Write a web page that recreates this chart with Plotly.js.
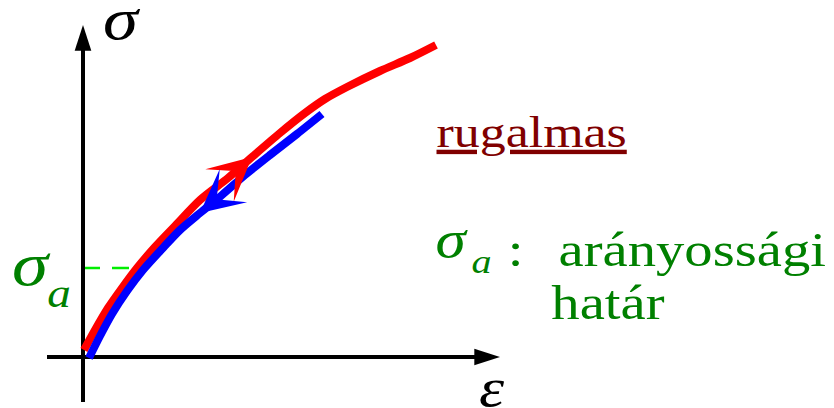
<!DOCTYPE html>
<html>
<head>
<meta charset="utf-8">
<script src="https://cdn.plot.ly/plotly-3.0.1.min.js"></script>
<style>
  html, body { margin: 0; padding: 0; background: #ffffff; }
  #chart { width: 834px; height: 408px; }
  /* slightly wide lettering for the labels */
  #chart text.annotation-text {
    transform-box: fill-box;
    transform-origin: center;
    transform: scaleX(1.18);
  }
</style>
</head>
<body>
<div id="chart"></div>
<script>
// Elastic behaviour in the stress–strain plane: loading (red) and unloading (blue)
// follow the same path; below σ_a the relation is still proportional.

// Loading branch (ε, σ) in arbitrary units
const loadStrain = [0.01, 0.12, 0.25, 0.39, 0.54, 0.72, 0.92, 1.17, 1.45, 1.69, 1.97, 2.22, 2.42, 2.64, 2.97, 3.27, 3.53];
const loadStress = [0.07, 0.27, 0.49, 0.69, 0.89, 1.10, 1.31, 1.57, 1.79, 2.00, 2.24, 2.44, 2.58, 2.70, 2.86, 2.99, 3.12];

// Unloading branch (ε, σ)
const unloadStrain = [0.06, 0.17, 0.29, 0.44, 0.60, 0.79, 0.97, 1.17, 1.39, 1.62, 1.87, 2.14, 2.39];
const unloadStress = [-0.01, 0.21, 0.43, 0.66, 0.87, 1.08, 1.27, 1.44, 1.62, 1.82, 2.02, 2.23, 2.43];

// Proportional limit
const sigmaA = 0.89;

// Texts
const yAxisLabel = 'σ';
const xAxisLabel = 'ε';
const limitSymbol = 'σ';
const limitIndex = 'a';
const elasticLabel = 'rugalmas';
const limitLine1 = 'arányossági';
const limitLine2 = 'határ';

// Where the direction arrows sit on each branch (point index)
const loadArrowAt = 9;
const unloadArrowAt = 7;

const W = 834, H = 408;
const SERIF = 'Liberation Serif';
const RED = '#ff0000', BLUE = '#0000ff', GREEN = '#008000', MAROON = '#800000';

// strain at which the loading branch reaches a given stress (linear interpolation)
function strainAt(stress) {
  for (let i = 1; i < loadStress.length; i++) {
    if (loadStress[i] >= stress) {
      const t = (stress - loadStress[i - 1]) / (loadStress[i] - loadStress[i - 1]);
      return loadStrain[i - 1] + t * (loadStrain[i] - loadStrain[i - 1]);
    }
  }
  return loadStrain[loadStrain.length - 1];
}

// axis extents (data units)
const xMin = -0.36, xMax = 4.17;
const yMin = -0.45, yMax = 3.32;

const axisMarker = {
  symbol: 'arrow', size: [0, 27], color: '#000000', opacity: 1,
  line: { width: 0 }, angleref: 'previous'
};

const traces = [
  // dashed guide at the proportional limit
  {
    x: [0, strainAt(sigmaA)], y: [sigmaA, sigmaA],
    mode: 'lines', line: { color: '#00ee00', width: 2.5, dash: '17px,12px' }
  },
  // σ axis
  {
    x: [0, 0], y: [yMin, yMax], mode: 'lines+markers',
    line: { color: '#000000', width: 4 }, marker: axisMarker
  },
  // ε axis
  {
    x: [xMin, xMax], y: [0, 0], mode: 'lines+markers',
    line: { color: '#000000', width: 4 }, marker: axisMarker
  },
  // loading
  {
    x: loadStrain, y: loadStress, mode: 'lines',
    line: { color: RED, width: 8, shape: 'spline', smoothing: 0.8 }
  },
  // unloading
  {
    x: unloadStrain, y: unloadStress, mode: 'lines',
    line: { color: BLUE, width: 8, shape: 'spline', smoothing: 0.8 }
  }
];

// paper position from pixel position
function at(px, py) { return { xref: 'paper', yref: 'paper', x: px / W, y: 1 - py / H }; }

function label(text, px, py, size, color) {
  return Object.assign(at(px, py), {
    text: text, showarrow: false,
    xanchor: 'center', yanchor: 'middle',
    font: { family: SERIF, size: size, color: color }
  });
}

function directionArrow(xs, ys, i, j, color) {
  return {
    xref: 'x', yref: 'y', axref: 'x', ayref: 'y',
    x: xs[i], y: ys[i], ax: xs[j], ay: ys[j],
    text: '', showarrow: true,
    arrowhead: 3, arrowsize: 3.6, arrowwidth: 2, arrowcolor: color
  };
}

const annotations = [
  label('<i>' + yAxisLabel + '</i>', 122, 19, 60, '#000000'),
  label('<i>' + xAxisLabel + '</i>', 492, 388, 54, '#000000'),
  label('<i>' + limitSymbol + '</i>', 32, 264, 62, GREEN),
  label('<i>' + limitIndex + '</i>', 59, 293, 40, GREEN),
  label('<u>' + elasticLabel + '</u>', 531, 133, 44, MAROON),
  label('<i>' + limitSymbol + '</i>', 452, 239, 52, GREEN),
  label('<i>' + limitIndex + '</i>', 482, 261, 34, GREEN),
  label(':', 515, 249, 48, GREEN),
  label(limitLine1, 692, 249, 48, GREEN),
  label(limitLine2, 608, 302, 48, GREEN),
  directionArrow(loadStrain, loadStress, loadArrowAt, loadArrowAt - 1, RED),
  directionArrow(unloadStrain, unloadStress, unloadArrowAt, unloadArrowAt + 1, BLUE)
];

const layout = {
  width: W, height: H,
  margin: { l: 0, r: 0, t: 0, b: 0, pad: 0 },
  paper_bgcolor: '#ffffff', plot_bgcolor: '#ffffff',
  showlegend: false,
  font: { family: SERIF },
  xaxis: { range: [-0.83, 7.51], visible: false, fixedrange: true },
  yaxis: { range: [-0.51, 3.57], visible: false, fixedrange: true },
  annotations: annotations
};

Plotly.newPlot('chart', traces, layout, { staticPlot: true, displayModeBar: false });
</script>
</body>
</html>
